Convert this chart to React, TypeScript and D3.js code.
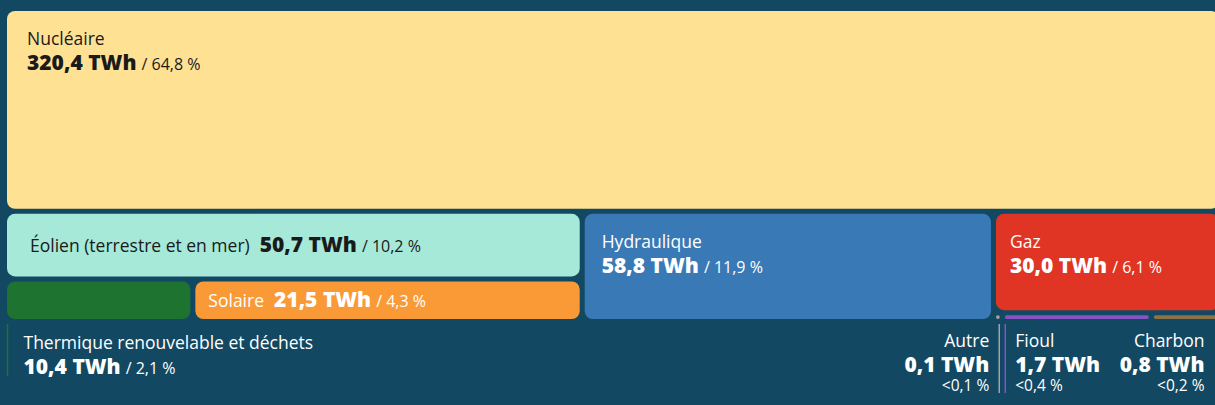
import React, { useMemo } from "react";
import * as d3 from "d3";

// ---------- data ----------
const categories = [
  "Nucléaire",
  "Éolien (terrestre et en mer)",
  "Thermique renouvelable et déchets",
  "Solaire",
  "Hydraulique",
  "Gaz",
  "Autre",
  "Fioul",
  "Charbon",
];
const valuesTWh = [320.4, 50.7, 10.4, 21.5, 58.8, 30.0, 0.1, 1.7, 0.8];
const valueLabels = ["320,4", "50,7", "10,4", "21,5", "58,8", "30,0", "0,1", "1,7", "0,8"];
const shareLabels = ["64,8 %", "10,2 %", "2,1 %", "4,3 %", "11,9 %", "6,1 %", "<0,1 %", "<0,4 %", "<0,2 %"];
const groupPaths = [
  "",
  "mix/renouvelable",
  "mix/renouvelable/petit",
  "mix/renouvelable/petit",
  "mix",
  "mix/fossile",
  "mix/fossile/petit",
  "mix/fossile/petit",
  "mix/fossile/petit",
];
const unit = "TWh";

// ---------- styles ----------
type Style = {
  fill: string;
  text: string;
  mode: "stacked" | "inline" | "below";
  dx: number;
  anchor?: "start" | "end";
  pctInline?: boolean;
};
const styles: Record<string, Style> = {
  "Nucléaire": { fill: "#ffe194", text: "#1a1a1a", mode: "stacked", dx: 20 },
  "Éolien (terrestre et en mer)": { fill: "#a6e9d8", text: "#1a1a1a", mode: "inline", dx: 23 },
  "Thermique renouvelable et déchets": { fill: "#1f7331", text: "#ffffff", mode: "below", anchor: "start", dx: 16, pctInline: true },
  "Solaire": { fill: "#f99a37", text: "#ffffff", mode: "inline", dx: 13 },
  "Hydraulique": { fill: "#3979b6", text: "#ffffff", mode: "stacked", dx: 17 },
  "Gaz": { fill: "#e03424", text: "#ffffff", mode: "stacked", dx: 14 },
  "Autre": { fill: "#a3a3a3", text: "#ffffff", mode: "below", anchor: "end", dx: 10 },
  "Fioul": { fill: "#8553c6", text: "#ffffff", mode: "below", anchor: "start", dx: 10 },
  "Charbon": { fill: "#8c7345", text: "#ffffff", mode: "below", anchor: "end", dx: 14 },
};

const W = 1215;
const H = 405;
const BG = "#134862";
const FONT = "'Open Sans', 'Noto Sans', sans-serif";
const LABEL_SIZE = 17.5;
const VALUE_SIZE = 21;
const PCT_SIZE = 16;
const PCT_BELOW_SIZE = 15.5;

type Node = { name: string; children?: Node[]; value?: number; index?: number };

function buildTree(): Node {
  const root: Node = { name: "root", children: [] };
  categories.forEach((name, i) => {
    let node = root;
    const path = groupPaths[i] ? groupPaths[i].split("/") : [];
    for (const seg of path) {
      let child = node.children!.find((c) => c.name === seg && c.children);
      if (!child) {
        child = { name: seg, children: [] };
        node.children!.push(child);
      }
      node = child;
    }
    node.children!.push({ name, value: valuesTWh[i], index: i });
  });
  return root;
}

const tile = (node: any, x0: number, y0: number, x1: number, y1: number) =>
  (node.depth % 2 === 0 ? d3.treemapSlice : d3.treemapDice)(node, x0, y0, x1, y1);

export default function App() {
  const leaves = useMemo(() => {
    const root = d3.hierarchy<Node>(buildTree()).sum((d) => d.value ?? 0);
    d3.treemap<Node>().tile(tile).size([1212, 308]).paddingInner(5)(root as any);
    return (root as any).leaves() as d3.HierarchyRectangularNode<Node>[];
  }, []);

  const ox = 7;
  const oy = 11;

  return (
    <svg
      width={W}
      height={H}
      style={{ position: "absolute", left: 0, top: 0, display: "block" }}
      fontFamily={FONT}
    >
      <rect x={0} y={0} width={W} height={H} fill={BG} />
      <g transform={`translate(${ox},${oy})`}>
        {leaves.map((n) => {
          const i = n.data.index!;
          const name = categories[i];
          const st = styles[name];
          const w = n.x1 - n.x0;
          const h = n.y1 - n.y0;
          return (
            <rect
              key={name}
              x={n.x0}
              y={n.y0}
              width={Math.max(w, 0)}
              height={Math.max(h, 0)}
              rx={Math.min(8, w / 2, h / 2)}
              fill={st.fill}
            />
          );
        })}
        {leaves.map((n) => {
          const i = n.data.index!;
          const name = categories[i];
          const st = styles[name];
          if (st.mode === "stacked") {
            return (
              <g key={name + "-t"} fill={st.text}>
                <text x={n.x0 + st.dx} y={n.y0 + 34} fontSize={LABEL_SIZE}>
                  {name}
                </text>
                <text x={n.x0 + st.dx} y={n.y0 + 59}>
                  <tspan fontSize={VALUE_SIZE} fontWeight={800}>
                    {valueLabels[i]} {unit}
                  </tspan>
                  <tspan fontSize={PCT_SIZE} dx={5}>
                    / {shareLabels[i]}
                  </tspan>
                </text>
              </g>
            );
          }
          if (st.mode === "inline") {
            const cy = (n.y0 + n.y1) / 2 + 6.5;
            return (
              <text key={name + "-t"} x={n.x0 + st.dx} y={cy} fill={st.text}>
                <tspan fontSize={LABEL_SIZE}>{name}</tspan>
                <tspan fontSize={VALUE_SIZE} fontWeight={800} dx={10}>
                  {valueLabels[i]} {unit}
                </tspan>
                <tspan fontSize={PCT_SIZE} dx={5}>
                  / {shareLabels[i]}
                </tspan>
              </text>
            );
          }
          // below
          const lx = st.anchor === "start" ? n.x0 + 0.5 : n.x1 - 0.5;
          const tx = st.anchor === "start" ? lx + st.dx : lx - st.dx;
          const ly0 = n.y1 + 5;
          const ly1 = st.pctInline ? n.y1 + 57 : n.y1 + 74;
          return (
            <g key={name + "-t"} fill={st.text} textAnchor={st.anchor}>
              <line x1={lx} x2={lx} y1={ly0} y2={ly1} stroke={st.fill} strokeWidth={1.5} />
              <text x={tx} y={n.y1 + (st.pctInline ? 30 : 28)} fontSize={LABEL_SIZE}>
                {name}
              </text>
              {st.pctInline ? (
                <text x={tx} y={n.y1 + 55}>
                  <tspan fontSize={VALUE_SIZE} fontWeight={800}>
                    {valueLabels[i]} {unit}
                  </tspan>
                  <tspan fontSize={PCT_SIZE} dx={5}>
                    / {shareLabels[i]}
                  </tspan>
                </text>
              ) : (
                <>
                  <text x={tx} y={n.y1 + 53} fontSize={VALUE_SIZE} fontWeight={800}>
                    {valueLabels[i]} {unit}
                  </text>
                  <text x={tx} y={n.y1 + 71.5} fontSize={PCT_BELOW_SIZE}>
                    {shareLabels[i]}
                  </text>
                </>
              )}
            </g>
          );
        })}
      </g>
    </svg>
  );
}
